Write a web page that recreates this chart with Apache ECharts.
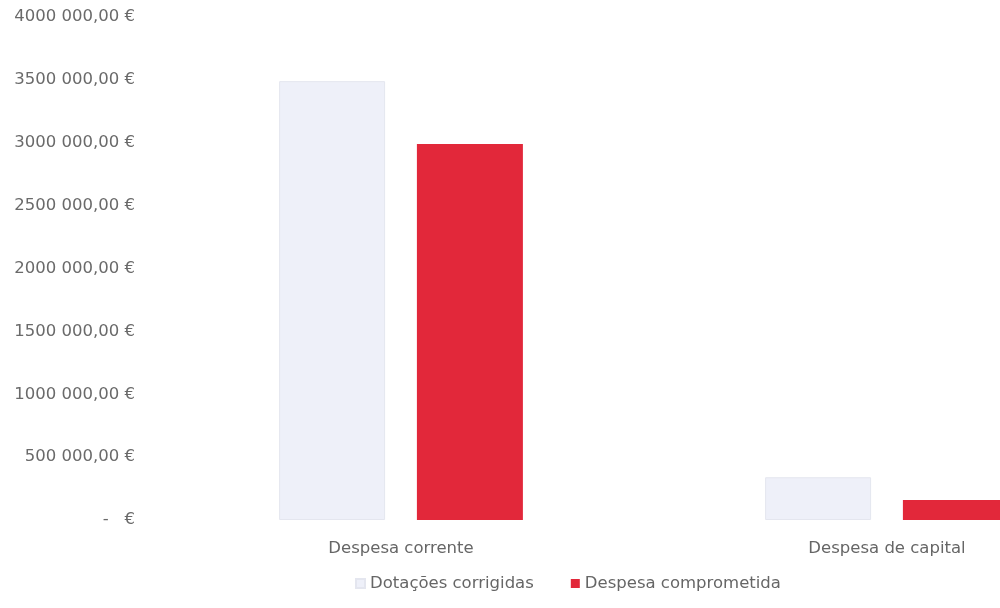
<!DOCTYPE html>
<html>
<head>
<meta charset="utf-8">
<script src="https://cdn.jsdelivr.net/npm/echarts@6/dist/echarts.min.js"></script>
<style>html,body{margin:0;padding:0;background:#fff;overflow:hidden;width:1000px;height:608px;}#c{width:1130px;height:608px;}</style>
</head>
<body>
<div id="c"></div>
<script>
const categories = ["Despesa corrente", "Despesa de capital"];
const seriesNames = ["Dotações corrigidas", "Despesa comprometida"];
const dotacoes = [3490000, 340000];
const comprometida = [2990000, 160000];
const yTicks = [0, 500000, 1000000, 1500000, 2000000, 2500000, 3000000, 3500000, 4000000];

function fmt(v) {
  if (v === 0) return "-   €";
  const th = Math.floor(v / 1000);
  const rest = String(v % 1000).padStart(3, "0");
  return th + " " + rest + ",00 €";
}

const font = "DejaVu Sans";
const chart = echarts.init(document.getElementById("c"));
chart.setOption({
  animation: false,
  backgroundColor: "#ffffff",
  grid: { left: 158, top: 17, right: 0, bottom: 88, containLabel: false },
  legend: {
    left: 350, top: 570,
    itemWidth: 9, itemHeight: 9, itemGap: 37,
    icon: "rect",
    textStyle: { fontFamily: font, fontSize: 16.5, color: "#666666" },
    data: seriesNames
  },
  xAxis: {
    type: "category",
    data: categories,
    axisLine: { show: false },
    axisTick: { show: false },
    axisLabel: { fontFamily: font, fontSize: 16.5, color: "#666666", margin: 20 }
  },
  yAxis: {
    type: "value",
    min: 0, max: 4000000, interval: 500000,
    splitLine: { show: false },
    axisLine: { show: false },
    axisTick: { show: false },
    axisLabel: {
      fontFamily: font, fontSize: 16.5, color: "#6a6a6a", margin: 23,
      formatter: function (v) { return yTicks.indexOf(v) >= 0 ? fmt(v) : ""; }
    }
  },
  series: [
    {
      name: seriesNames[0], type: "bar", data: dotacoes,
      barWidth: 106, barGap: "30%",
      itemStyle: { color: "#eef0f9", borderColor: "#e4e6ef", borderWidth: 1 }
    },
    {
      name: seriesNames[1], type: "bar", data: comprometida,
      barWidth: 106,
      itemStyle: { color: "#e2283a" }
    }
  ]
});
</script>
</body>
</html>
